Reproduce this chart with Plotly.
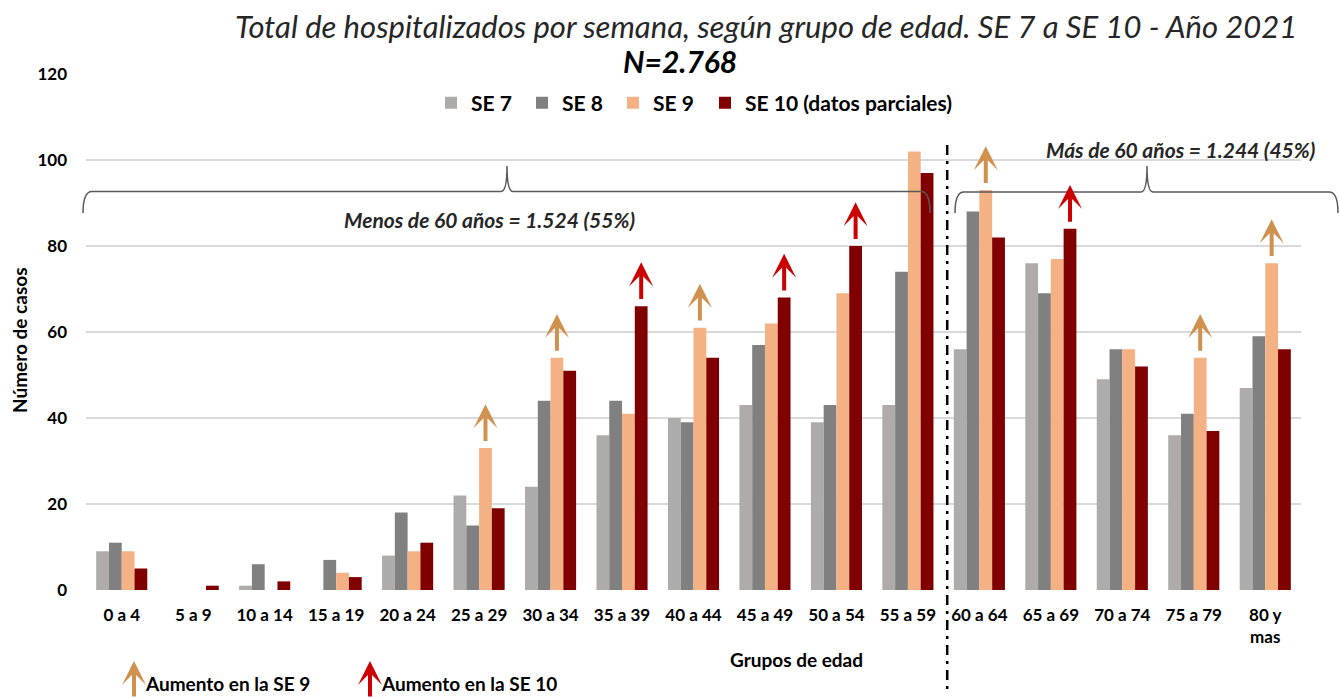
import plotly.graph_objects as go

# Age groups and weekly hospitalisation counts
grupos = ["0 a 4", "5 a 9", "10 a 14", "15 a 19", "20 a 24", "25 a 29",
          "30 a 34", "35 a 39", "40 a 44", "45 a 49", "50 a 54", "55 a 59",
          "60 a 64", "65 a 69", "70 a 74", "75 a 79", "80 y<br>mas"]
se7 = [9, 0, 1, 0, 8, 22, 24, 36, 40, 43, 39, 43, 56, 76, 49, 36, 47]
se8 = [11, 0, 6, 7, 18, 15, 44, 44, 39, 57, 43, 74, 88, 69, 56, 41, 59]
se9 = [9, 0, 0, 4, 9, 33, 54, 41, 61, 62, 69, 102, 93, 77, 56, 54, 76]
se10 = [5, 1, 2, 3, 11, 19, 51, 66, 54, 68, 80, 97, 82, 84, 52, 37, 56]
series_names = ["SE 7", "SE 8", "SE 9", "SE 10 (datos parciales)"]
series_colors = ["#AEABAA", "#808080", "#F4B183", "#800000"]

# Groups flagged with an increase arrow
aumento_se9 = ["25 a 29", "30 a 34", "40 a 44", "60 a 64", "75 a 79", "80 y<br>mas"]
aumento_se10 = ["35 a 39", "45 a 49", "50 a 54", "65 a 69"]

FONT = "Lato, 'Open Sans', sans-serif"
W, H = 1340, 698
L, R, T, B = 86, 39, 74, 108
PW, PH = W - L - R, H - T - B
BARGAP = 0.285
n_series = 4
bar_w = (1 - BARGAP) / n_series
legend_x_px = [431, 522, 613, 705]


def fmt_miles(v):
    return f"{v:,}".replace(",", ".")


def px_x(p):
    return (p - L) / PW


def px_y(p):
    return (H - B - p) / PH


x_idx = list(range(len(grupos)))
all_series = [se7, se8, se9, se10]
legend_ids = ["legend", "legend2", "legend3", "legend4"]

fig = go.Figure()
for name, vals, col, lg in zip(series_names, all_series, series_colors, legend_ids):
    fig.add_trace(go.Bar(x=x_idx, y=vals, name=name, marker_color=col,
                         marker_line_width=0, legend=lg))

total = sum(sum(s) for s in all_series)
split = 12  # groups before "60 a 64"
menos60 = sum(sum(s[:split]) for s in all_series)
mas60 = total - menos60

annotations = []
shapes = []


def bar_center(i, k):
    return i + (k - (n_series - 1) / 2) * bar_w


# increase arrows above the flagged bars
for lst, k, vals, col in [(aumento_se9, 2, se9, "#D0914F"),
                          (aumento_se10, 3, se10, "#CC0000")]:
    for g in lst:
        i = grupos.index(g)
        xc = bar_center(i, k)
        annotations.append(dict(
            x=xc, y=vals[i] + 10.2, ax=xc, ay=vals[i] + 1.3,
            xref="x", yref="y", axref="x", ayref="y", text="",
            showarrow=True, arrowhead=3, arrowsize=1.0, arrowwidth=4,
            arrowcolor=col))

# dash-dot separator between under-60 and over-60 groups
shapes.append(dict(type="line", xref="x", yref="paper",
                   x0=split - 0.45, x1=split - 0.45, y0=px_y(145), y1=px_y(692),
                   line=dict(color="black", width=2.5, dash="10px,6px,3px,6px")))


def brace(x0, x1, xt, yb, yh, yt):
    c = 9
    pts = [
        f"M {px_x(x0)},{px_y(yb)}",
        f"Q {px_x(x0)},{px_y(yh)} {px_x(x0 + c)},{px_y(yh)}",
        f"L {px_x(xt - 6)},{px_y(yh)}",
        f"Q {px_x(xt)},{px_y(yh)} {px_x(xt)},{px_y(yt)}",
        f"Q {px_x(xt)},{px_y(yh)} {px_x(xt + 6)},{px_y(yh)}",
        f"L {px_x(x1 - c)},{px_y(yh)}",
        f"Q {px_x(x1)},{px_y(yh)} {px_x(x1)},{px_y(yb)}",
    ]
    return dict(type="path", xref="paper", yref="paper", path=" ".join(pts),
                line=dict(color="#595959", width=1.5))


shapes.append(brace(83, 930, 507, 213, 191.5, 166))
shapes.append(brace(955, 1338, 1147, 213, 192, 166))


def label(text, xp, yp, size, weight="normal", style="normal", color="#000000",
          xanchor="center", angle=0):
    return dict(text=text, x=px_x(xp), y=px_y(yp), xref="paper", yref="paper",
                xanchor=xanchor, yanchor="middle", showarrow=False, textangle=angle,
                font=dict(family=FONT, size=size, color=color, weight=weight,
                          style=style))


annotations += [
    label(f"Menos de 60 años = {fmt_miles(menos60)} ({round(100 * menos60 / total)}%)",
          490, 220, 21, "bold", "italic", "#262626"),
    label(f"Más de 60 años = {fmt_miles(mas60)} ({round(100 * mas60 / total)}%)",
          1180, 149, 21, "bold", "italic", "#262626"),
    label("Total de hospitalizados por semana, según grupo de edad. SE 7 a SE 10 - Año 2021",
          766, 26, 31, "normal", "italic", "#262626"),
    label(f"N={fmt_miles(total)}", 680, 61, 30, "bold", "italic"),
    label("Número de casos", 19, 340, 19, "bold", angle=-90),
    label("Grupos de edad", 796, 659, 19, "bold"),
]

# arrow key below the chart
for xp, col, txt in [(134, "#D0914F", "Aumento en la SE 9"),
                     (370, "#CC0000", "Aumento en la SE 10")]:
    annotations.append(dict(x=px_x(xp), y=px_y(661), xref="paper", yref="paper",
                            ax=0, ay=40, text="", showarrow=True, arrowhead=3,
                            arrowsize=1.0, arrowwidth=4, arrowcolor=col))
    annotations.append(label(txt, xp + 9, 684, 19, "bold", xanchor="left"))

legend_style = dict(orientation="h", yanchor="middle", xanchor="left",
                    font=dict(family=FONT, size=21, weight="bold", color="#000000"),
                    itemclick=False, bgcolor="rgba(0,0,0,0)")
legends = {lg: dict(legend_style, x=px_x(xp), y=px_y(103))
           for lg, xp in zip(legend_ids, legend_x_px)}

fig.update_layout(
    width=W, height=H,
    margin=dict(l=L, r=R, t=T, b=B),
    paper_bgcolor="white", plot_bgcolor="white",
    barmode="group", bargap=BARGAP, bargroupgap=0,
    font=dict(family=FONT, color="#000000"),
    showlegend=True,
    annotations=annotations,
    shapes=shapes,
    **legends,
)
fig.update_xaxes(range=[-0.5, len(grupos) - 0.5], tickvals=x_idx, ticktext=grupos,
                 showgrid=False, zeroline=False, showline=False, ticks="",
                 tickfont=dict(family=FONT, size=17, weight="bold", color="#000000"),
                 ticklabelstandoff=13)
fig.update_yaxes(range=[0, 120], dtick=20, showgrid=True, gridcolor="#D9D9D9",
                 gridwidth=2, zeroline=False, showline=False, ticks="",
                 tickfont=dict(family=FONT, size=17, weight="bold", color="#000000"),
                 ticklabelstandoff=18)

fig.write_html("out.html")
